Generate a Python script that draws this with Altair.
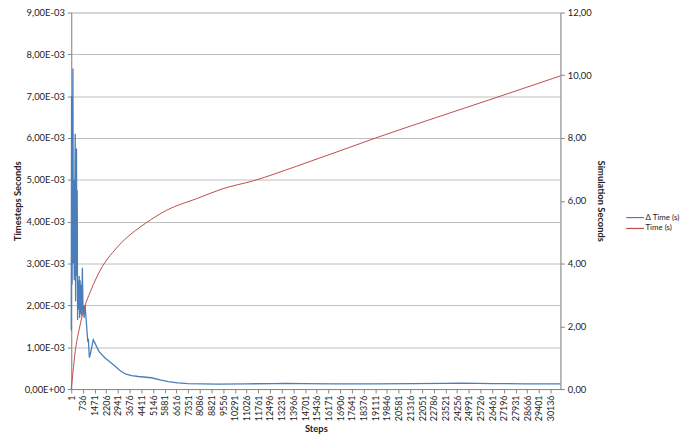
import altair as alt
import pandas as pd

# Δ Time (s) series: (step, seconds)
delta_steps = [1, 20, 50, 105, 135, 160, 185, 215, 250, 275, 300, 330, 355, 375, 400,
               435, 465, 500, 530, 560, 590, 620, 650, 700, 745, 775, 810, 870, 930,
               1040, 1075, 1140, 1210, 1385, 1550, 1740, 2110, 2360, 2780, 3040, 3400,
               3790, 4220, 5030, 5590, 6090, 6700, 7330, 9190, 11000, 12800, 13500,
               14500, 16500, 19000, 21500, 23500, 24500, 25500, 26500, 28500, 30750]
delta_time = [1.4e-3, 7.0e-3, 2.5e-3, 7.66e-3, 3.0e-3, 5.0e-3, 2.6e-3, 3.8e-3, 6.1e-3,
              2.1e-3, 3.5e-3, 5.75e-3, 2.7e-3, 4.75e-3, 1.65e-3, 2.6e-3, 1.9e-3, 2.7e-3,
              1.7e-3, 2.6e-3, 1.8e-3, 2.5e-3, 1.75e-3, 2.9e-3, 1.8e-3, 2.0e-3, 1.7e-3,
              2.0e-3, 1.7e-3, 1.13e-3, 1.2e-3, 0.75e-3, 0.85e-3, 1.18e-3, 1.05e-3,
              0.9e-3, 0.75e-3, 0.67e-3, 0.54e-3, 0.45e-3, 0.36e-3, 0.32e-3, 0.30e-3,
              0.27e-3, 0.22e-3, 0.18e-3, 0.15e-3, 0.13e-3, 0.12e-3, 0.125e-3, 0.13e-3,
              0.135e-3, 0.13e-3, 0.125e-3, 0.125e-3, 0.13e-3, 0.135e-3, 0.14e-3,
              0.135e-3, 0.13e-3, 0.125e-3, 0.125e-3]

# Time (s) series: (step, seconds)
time_steps = [1, 100, 250, 500, 830, 1200, 1950, 2600, 3350, 4720, 6000, 7950, 9500,
              11470, 14160, 19130, 26770, 30750]
sim_time = [0.0, 0.5, 1.2, 1.9, 2.6, 3.1, 3.9, 4.35, 4.76, 5.30, 5.7, 6.08, 6.38,
            6.64, 7.1, 8.0, 9.3, 9.98]

x_ticks = [1 + 735 * i for i in range(42)]
left_ticks = [0, 0.001, 0.002, 0.003, 0.004, 0.005, 0.006, 0.007, 0.008, 0.009]
right_ticks = [0, 2, 4, 6, 8, 10, 12]
series_names = ["Δ Time (s)", "Time (s)"]
series_colors = ["#4A7EBB", "#BE4B48"]

df_delta = pd.DataFrame({"step": delta_steps, "value": delta_time, "series": series_names[0]})
df_time = pd.DataFrame({"step": time_steps, "value": sim_time, "series": series_names[1]})

FONT = "Lato"
AXIS_COLOR = "#868686"

x_enc = alt.X(
    "step:Q",
    scale=alt.Scale(domain=[1, 30750], nice=False, zero=False),
    axis=alt.Axis(
        values=x_ticks, format="d", labelAngle=-90, labelAlign="right",
        labelBaseline="middle", labelFontSize=9, labelPadding=2, tickSize=4,
        grid=False, title="Steps", titleFontSize=9.5, titleFontWeight="bold",
        titlePadding=3, domainColor=AXIS_COLOR, tickColor=AXIS_COLOR,
        labelColor="#222222", titleColor="#222222", labelOverlap=False,
        labelFont=FONT, titleFont=FONT,
    ),
)

color_enc = alt.Color(
    "series:N",
    scale=alt.Scale(domain=series_names, range=series_colors),
    legend=alt.Legend(
        title=None, orient="none", legendX=565, legendY=202,
        symbolType="M-2,0H2", symbolSize=81, symbolStrokeWidth=1.2,
        labelFontSize=8, labelFont=FONT, labelColor="#222222", rowPadding=1,
        labelOffset=5,
    ),
)

left = alt.Chart(df_delta).mark_line(strokeWidth=1.3).encode(
    x=x_enc,
    y=alt.Y(
        "value:Q",
        scale=alt.Scale(domain=[0, 0.009], nice=False),
        axis=alt.Axis(
            values=left_ticks, orient="left", title="Timesteps Seconds",
            labelExpr="datum.value < 1e-9 ? '0,00E+00' : replace(format(datum.value*1000, '.2f'), '.', ',') + 'E-03'",
            labelFontSize=9.5, labelPadding=3, tickSize=4, titleFontSize=9.5,
            titleFontWeight="bold", titlePadding=2, grid=True, gridColor="#BDBDBD",
            domainColor=AXIS_COLOR, tickColor=AXIS_COLOR, labelColor="#222222",
            titleColor="#222222", labelFont=FONT, titleFont=FONT,
        ),
    ),
    color=color_enc,
)

right = alt.Chart(df_time).mark_line(strokeWidth=1.0, interpolate="monotone").encode(
    x=x_enc,
    y=alt.Y(
        "value:Q",
        scale=alt.Scale(domain=[0, 12], nice=False),
        axis=alt.Axis(
            values=right_ticks, orient="right", title="Simulation Seconds",
            labelExpr="replace(format(datum.value, '.2f'), '.', ',')",
            labelFontSize=9.5, labelPadding=3, tickSize=4, titleFontSize=9.5,
            titleFontWeight="bold", titlePadding=4, grid=False,
            domainColor=AXIS_COLOR, tickColor=AXIS_COLOR, labelColor="#222222",
            titleColor="#222222", labelFont=FONT, titleFont=FONT,
        ),
    ),
    color=color_enc,
)

chart = (
    alt.layer(left, right)
    .resolve_scale(y="independent")
    .properties(
        width=495, height=381,
        autosize=alt.AutoSizeParams(type="none"),
        padding={"left": 64, "top": 2, "right": 123, "bottom": 50},
    )
    .configure_view(stroke=None)
    .configure(font=FONT)
)

chart.save("out.html", embed_options={"renderer": "svg", "actions": False})
